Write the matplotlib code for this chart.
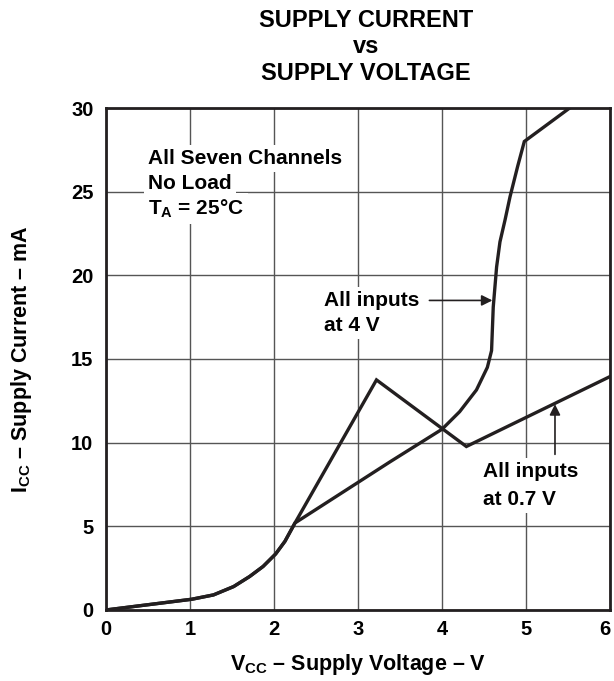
import matplotlib
matplotlib.use("Agg")
import matplotlib.pyplot as plt

plt.rcParams["font.family"] = ["Liberation Sans", "DejaVu Sans"]
plt.rcParams["font.weight"] = "bold"
plt.rcParams["mathtext.fontset"] = "custom"
plt.rcParams["mathtext.rm"] = "Liberation Sans:bold"
plt.rcParams["mathtext.bf"] = "Liberation Sans:bold"

# All inputs at 4 V
vcc_4v = [0.0, 1.02, 1.28, 1.52, 1.71, 1.87, 2.02, 2.13, 2.25, 3.38, 4.0, 4.21,
          4.41, 4.54, 4.59, 4.61, 4.65, 4.69, 4.75, 4.81, 4.9, 4.98, 5.52]
icc_4v = [0.0, 0.64, 0.9, 1.4, 2.0, 2.6, 3.35, 4.1, 5.2, 8.85, 10.8, 11.85,
          13.15, 14.5, 15.5, 18.1, 20.5, 22.0, 23.3, 24.7, 26.5, 28.0, 30.0]

# All inputs at 0.7 V
vcc_07v = [0.0, 1.02, 1.28, 1.52, 1.71, 1.87, 2.02, 2.13, 2.25, 3.22, 4.29, 6.0]
icc_07v = [0.0, 0.64, 0.9, 1.4, 2.0, 2.6, 3.35, 4.1, 5.2, 13.75, 9.77, 13.95]

x_ticks = [0, 1, 2, 3, 4, 5, 6]
y_ticks = [0, 5, 10, 15, 20, 25, 30]

INK = "#231f20"

fig = plt.figure(figsize=(6.14, 6.81), dpi=100)
ax = fig.add_axes([0.1726, 0.1043, 0.8209, 0.7371])

ax.plot(vcc_4v, icc_4v, color=INK, lw=2.4, zorder=3, solid_joinstyle="miter")
ax.plot(vcc_07v, icc_07v, color=INK, lw=2.4, zorder=3, solid_joinstyle="miter")

ax.set_xlim(0, 6)
ax.set_ylim(0, 30)
ax.set_xticks(x_ticks)
ax.set_yticks(y_ticks)
ax.tick_params(length=0, labelsize=14.5)
ax.tick_params(axis="x", pad=7)
ax.tick_params(axis="y", pad=9)
for lbl in ax.get_xticklabels() + ax.get_yticklabels():
    lbl.set_fontweight("bold")
ax.get_xticklabels()[-1].set_horizontalalignment("right")
ax.grid(True, color="#555555", lw=1.0, zorder=0)
ax.set_axisbelow(True)
for s in ax.spines.values():
    s.set_linewidth(2.0)
    s.set_color(INK)

ax.set_xlabel(r"V$_{\rm CC}$ – Supply Voltage – V", fontsize=15.5, fontweight="bold")
ax.set_ylabel(r"I$_{\rm CC}$ – Supply Current – mA", fontsize=15.5, fontweight="bold")
ax.xaxis.set_label_coords(0.5, -0.083)
ax.yaxis.set_label_coords(-0.143, 0.5)
fig.text(0.596, 0.931, "SUPPLY CURRENT\nvs\nSUPPLY VOLTAGE", ha="center", va="center",
         fontsize=17, fontweight="bold", linespacing=1.22)

box = dict(facecolor="white", edgecolor="none", pad=3)
fs = 15
ax.text(0.5, 27.0, "All Seven Channels", fontsize=fs, fontweight="bold", va="center", bbox=box, zorder=2)
ax.text(0.5, 25.5, "No Load", fontsize=fs, fontweight="bold", va="center", bbox=box, zorder=2)
ax.text(0.5, 24.0, r"T$_{\rm A}$ = 25°C", fontsize=fs, fontweight="bold", va="center", bbox=box, zorder=2)

ax.text(2.6, 18.5, "All inputs", fontsize=fs, fontweight="bold", va="center", bbox=box, zorder=2)
ax.text(2.6, 17.0, "at 4 V", fontsize=fs, fontweight="bold", va="center", bbox=box, zorder=2)
ax.annotate("", xy=(4.6, 18.5), xytext=(3.85, 18.5),
            arrowprops=dict(arrowstyle="-|>", color=INK, lw=1.2, mutation_scale=16,
                            shrinkA=0, shrinkB=0), zorder=4)

ax.text(4.49, 8.25, "All inputs", fontsize=fs, fontweight="bold", va="center", bbox=box, zorder=2)
ax.text(4.49, 6.63, "at 0.7 V", fontsize=fs, fontweight="bold", va="center", bbox=box, zorder=2)
ax.annotate("", xy=(5.345, 12.3), xytext=(5.345, 9.3),
            arrowprops=dict(arrowstyle="-|>", color=INK, lw=1.2, mutation_scale=16,
                            shrinkA=0, shrinkB=0), zorder=4)

fig.savefig("out.png", dpi=100, facecolor="white")
